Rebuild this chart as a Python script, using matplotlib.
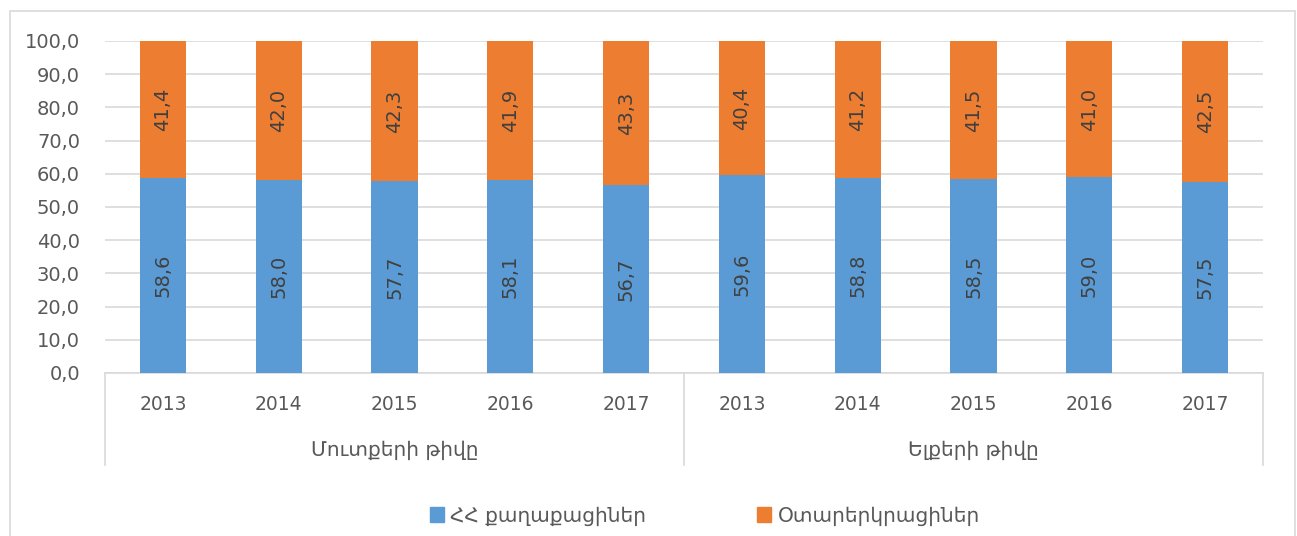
import numpy as np
import matplotlib.pyplot as plt
from matplotlib.patches import Rectangle

plt.rcParams['font.family'] = ['DejaVu Sans']

# data
years = ['2013', '2014', '2015', '2016', '2017'] * 2
groups = ['Մուտքերի թիվը', 'Ելքերի թիվը']
citizens = [58.6, 58.0, 57.7, 58.1, 56.7, 59.6, 58.8, 58.5, 59.0, 57.5]
foreigners = [41.4, 42.0, 42.3, 41.9, 43.3, 40.4, 41.2, 41.5, 41.0, 42.5]
series_names = ['ՀՀ քաղաքացիներ', 'Օտարերկրացիներ']

blue = '#5b9bd5'
orange = '#ed7d31'
txt = '#595959'
grid_c = '#d9d9d9'

W, H = 1297, 536
fig = plt.figure(figsize=(W / 100, H / 100), dpi=100)
fig.patches.append(Rectangle((10 / W, -0.05), 1285 / W, 1 - 11 / H + 0.05,
                             transform=fig.transFigure, fill=False,
                             edgecolor=grid_c, linewidth=1.2))

ax = fig.add_axes([105 / W, 1 - 373 / H, (1263 - 105) / W, (373 - 41) / H])

x = np.arange(len(citizens))
bw = 0.4
ax.bar(x, citizens, bw, color=blue, label=series_names[0], zorder=3)
ax.bar(x, foreigners, bw, bottom=citizens, color=orange, label=series_names[1], zorder=3)

def fmt(v):
    return f'{v:.1f}'.replace('.', ',')

for i in range(len(x)):
    ax.text(x[i], citizens[i] / 2, fmt(citizens[i]), rotation=90, ha='center', va='center',
            fontsize=14, color='#404040', zorder=4)
    ax.text(x[i], citizens[i] + foreigners[i] / 2, fmt(foreigners[i]), rotation=90,
            ha='center', va='center', fontsize=14, color='#404040', zorder=4)

ax.set_xlim(-0.5, len(x) - 0.5)
ax.set_ylim(0, 100)
ax.set_yticks(np.arange(0, 101, 10))
ax.set_yticklabels([fmt(v) for v in np.arange(0, 101, 10)])
ax.yaxis.grid(True, color=grid_c, linewidth=1.2, zorder=0)
ax.set_xticks(x)
ax.set_xticklabels(years)
ax.tick_params(axis='x', length=0, pad=16, labelsize=13.5, labelcolor=txt)
ax.tick_params(axis='y', length=0, pad=18, labelsize=14, labelcolor=txt)
for s in ['top', 'right', 'left']:
    ax.spines[s].set_visible(False)
ax.spines['bottom'].set_color(grid_c)
ax.spines['bottom'].set_linewidth(1.2)

# group separators and labels
depth = (465 - 373) / (373 - 41)
trans = ax.get_xaxis_transform()
for xs in [-0.5, 4.5, 9.5]:
    ax.plot([xs, xs], [0, -depth], color=grid_c, linewidth=1.2, transform=trans, clip_on=False)
for gi, g in enumerate(groups):
    ax.text(gi * 5 + 2, -(450 - 373) / (373 - 41), g, transform=trans, ha='center', va='center',
            fontsize=14.5, color=txt)

handles = [Rectangle((0, 0), 1, 1, color=blue), Rectangle((0, 0), 1, 1, color=orange)]
fig.legend(handles, series_names, loc='center', bbox_to_anchor=(705 / W, 1 - 516 / H), ncol=2,
           frameon=False, fontsize=14.5, labelcolor=txt, handlelength=0.7, handleheight=0.7,
           handletextpad=0.3, columnspacing=5.5)

fig.savefig('out.png', dpi=100)
